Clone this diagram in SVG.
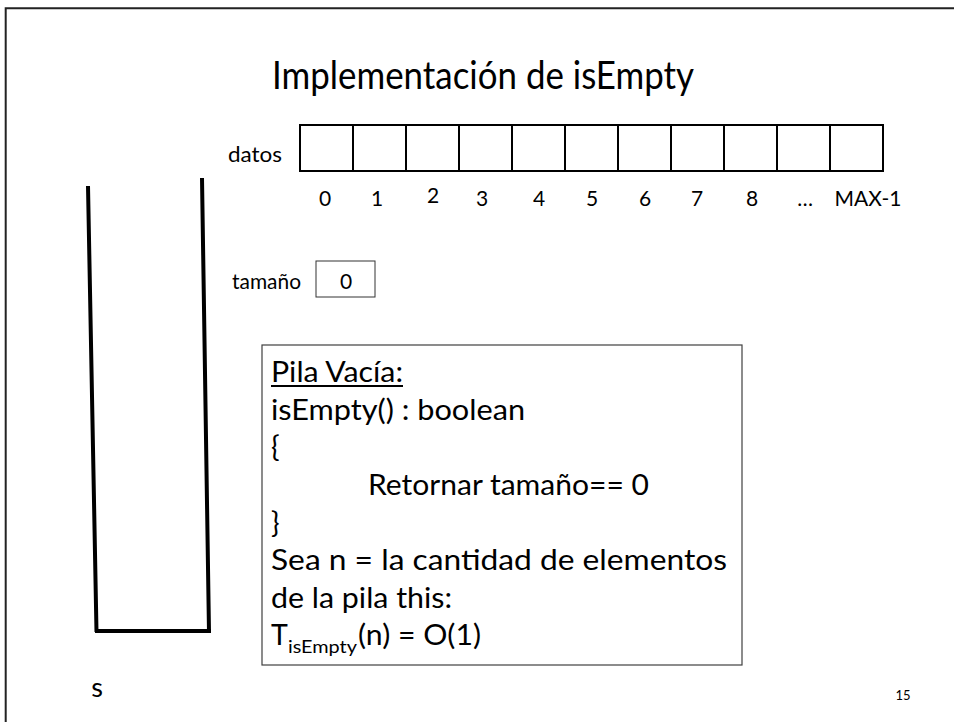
<svg xmlns="http://www.w3.org/2000/svg" width="954" height="722" viewBox="0 0 954 722">
<style>
  text { font-family: Lato, "Open Sans", "Liberation Sans", sans-serif; fill: #000; }
  .title { font-size: 39px; }
  .small { font-size: 21px; }
  .code { font-size: 28.5px; }
  .sub { font-size: 17px; }
  .cell { fill: #fff; stroke: #000; stroke-width: 2; }
  .stack { fill: none; stroke: #000; stroke-width: 4; }
</style>
<rect width="954" height="722" fill="#fff"/>
<path d="M5.7 722 V8.3 H954" fill="none" stroke="#222" stroke-width="2"/>

<g id="title">
  <text class="title" x="272" y="89" textLength="422" lengthAdjust="spacingAndGlyphs">Implementación de isEmpty</text>
</g>

<g id="datos">
  <text class="small" x="228" y="162" textLength="54" lengthAdjust="spacingAndGlyphs">datos</text>
  <rect class="cell" x="300" y="125" width="583" height="46"/>
  <path d="M353 125V171M406 125V171M459 125V171M512 125V171M565 125V171M618 125V171M671 125V171M724 125V171M777 125V171M830 125V171" stroke="#000" stroke-width="2"/>
  <g class="small" text-anchor="middle">
    <text x="325" y="206">0</text>
    <text x="377" y="206">1</text>
    <text x="433" y="203">2</text>
    <text x="482" y="206">3</text>
    <text x="539" y="206">4</text>
    <text x="592" y="206">5</text>
    <text x="645" y="206">6</text>
    <text x="697" y="206">7</text>
    <text x="752" y="206">8</text>
    <text x="805" y="206">…</text>
    <text x="868" y="206">MAX-1</text>
  </g>
</g>

<g id="stack">
  <path class="stack" d="M88 186 L96.5 632 M202 178 L209 632 M95 631 H211"/>
  <text x="97" y="697" font-size="27" text-anchor="middle">s</text>
</g>

<g id="tamano">
  <text class="small" x="232" y="289" textLength="69" lengthAdjust="spacingAndGlyphs">tamaño</text>
  <rect x="316" y="261" width="59" height="36" fill="#fff" stroke="#333" stroke-width="1"/>
  <text class="small" x="346" y="289" text-anchor="middle">0</text>
</g>

<g id="codebox">
  <rect x="262" y="345" width="480" height="320" fill="#fff" stroke="#404040" stroke-width="1.2"/>
  <text class="code" x="271" y="382" textLength="132" lengthAdjust="spacingAndGlyphs">Pila Vacía:</text>
  <line x1="271" y1="386" x2="403" y2="386" stroke="#000" stroke-width="2"/>
  <text class="code" x="271" y="419.6" textLength="254" lengthAdjust="spacingAndGlyphs">isEmpty() : boolean</text>
  <text class="code" x="271" y="457">{</text>
  <text class="code" x="368" y="495" textLength="281" lengthAdjust="spacingAndGlyphs">Retornar tamaño== 0</text>
  <text class="code" x="271" y="532.5">}</text>
  <text class="code" x="271" y="570" textLength="456" lengthAdjust="spacingAndGlyphs">Sea n = la cantidad de elementos</text>
  <text class="code" x="271" y="608" textLength="181" lengthAdjust="spacingAndGlyphs">de la pila this:</text>
  <text class="code" x="271" y="645">T</text>
  <text class="sub" x="288" y="653" textLength="69" lengthAdjust="spacingAndGlyphs">isEmpty</text>
  <text class="code" x="358" y="645" textLength="123" lengthAdjust="spacingAndGlyphs">(n) = O(1)</text>
</g>

<g id="pagenum">
  <text x="903" y="700" font-size="13" text-anchor="middle">15</text>
</g>
</svg>
